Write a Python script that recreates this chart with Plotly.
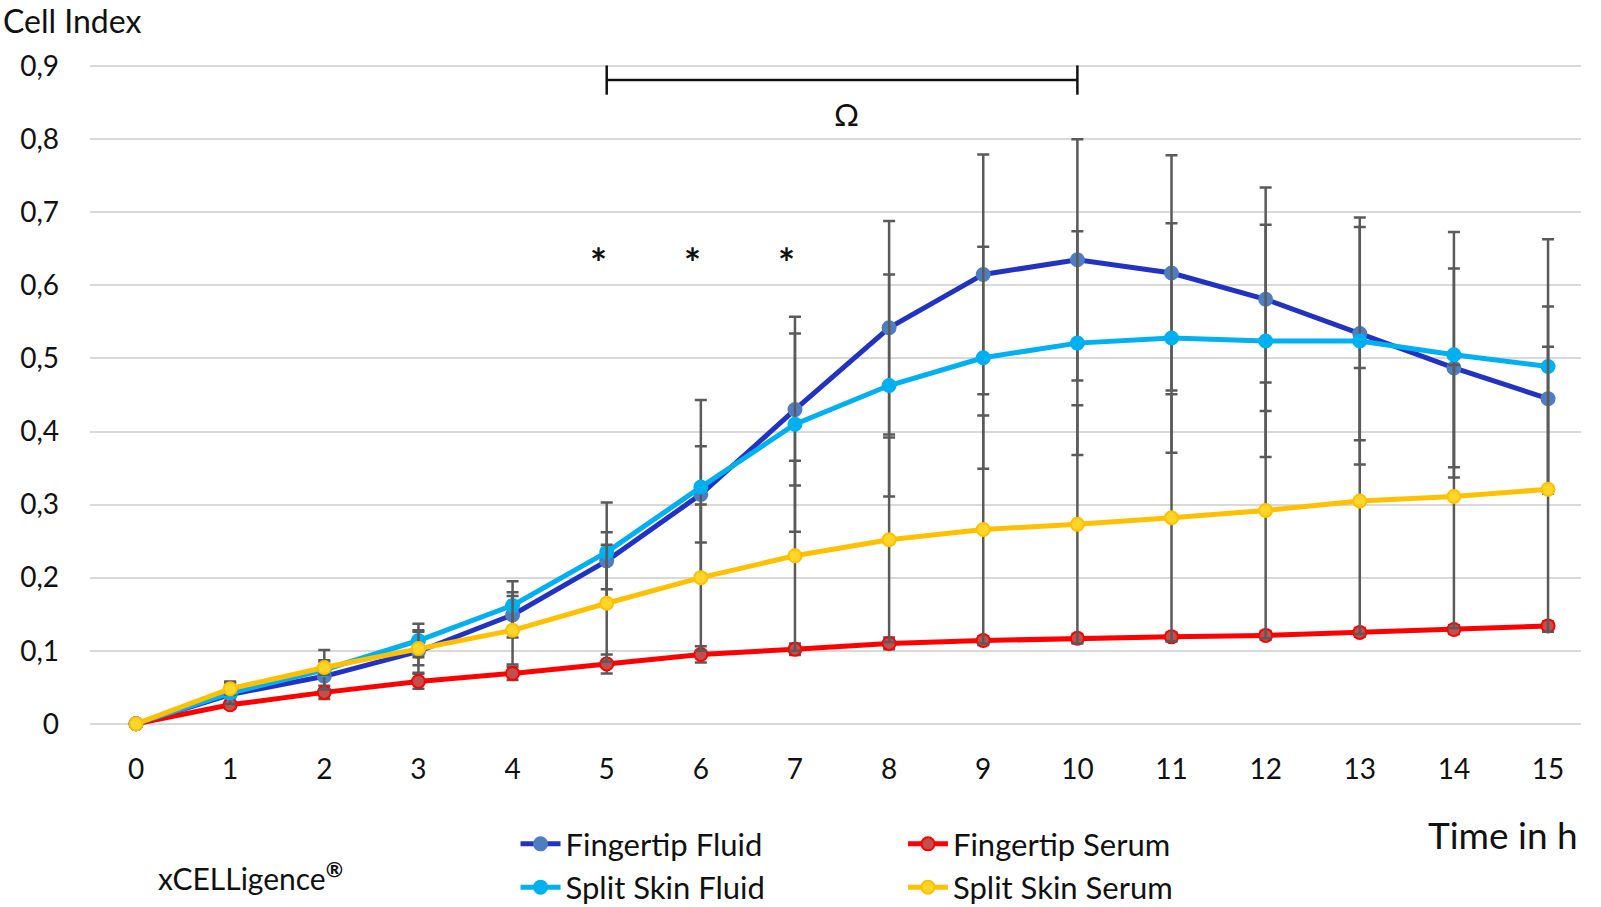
import plotly.graph_objects as go

hours = list(range(16))

ff_mean = [0, 0.040, 0.065, 0.099, 0.149, 0.223, 0.314, 0.430, 0.542, 0.615, 0.635, 0.617, 0.581, 0.534, 0.487, 0.445]
ff_sd   = [0, 0.018, 0.020, 0.029, 0.031, 0.039, 0.066, 0.104, 0.146, 0.164, 0.165, 0.161, 0.153, 0.146, 0.136, 0.126]

fs_mean = [0, 0.026, 0.043, 0.058, 0.069, 0.082, 0.095, 0.102, 0.110, 0.114, 0.117, 0.119, 0.121, 0.125, 0.129, 0.134]
fs_sd   = [0, 0.005, 0.009, 0.010, 0.009, 0.013, 0.011, 0.008, 0.008, 0.006, 0.006, 0.006, 0.006, 0.006, 0.006, 0.006]

ssf_mean = [0, 0.042, 0.074, 0.114, 0.162, 0.235, 0.324, 0.410, 0.463, 0.501, 0.521, 0.528, 0.524, 0.524, 0.505, 0.489]
ssf_sd   = [0, 0.015, 0.027, 0.023, 0.033, 0.068, 0.119, 0.147, 0.152, 0.152, 0.153, 0.157, 0.159, 0.169, 0.168, 0.174]

sss_mean = [0, 0.048, 0.077, 0.103, 0.128, 0.165, 0.200, 0.230, 0.252, 0.266, 0.273, 0.282, 0.292, 0.305, 0.311, 0.321]
sss_sd   = [0, 0.008, 0.010, 0.023, 0.047, 0.080, 0.100, 0.130, 0.140, 0.156, 0.163, 0.169, 0.175, 0.182, 0.180, 0.195]

y_tickvals = [0, 0.1, 0.2, 0.3, 0.4, 0.5, 0.6, 0.7, 0.8, 0.9]
y_ticktext = ["0", "0,1", "0,2", "0,3", "0,4", "0,5", "0,6", "0,7", "0,8", "0,9"]

star_x = [4.91, 5.91, 6.91]
star_y = 0.631
bracket_start, bracket_end, bracket_y = 5, 10, 0.881
bracket_tick = 0.02
omega_x, omega_y = 7.55, 0.835

FONT = "Lato, 'Open Sans', sans-serif"
ERR_COLOR = "#5a5a5a"

series = [
    ("Fingertip Fluid", ff_mean, ff_sd, "#2233C4", "#4F7EC0", "#4F7EC0", "legend"),
    ("Fingertip Serum", fs_mean, fs_sd, "#FF0000", "#C0504D", "#FF0000", "legend2"),
    ("Split Skin Fluid", ssf_mean, ssf_sd, "#00B0F0", "#00B0F0", "#00B0F0", "legend"),
    ("Split Skin Serum", sss_mean, sss_sd, "#FFC000", "#FFD52A", "#FFC000", "legend2"),
]

fig = go.Figure()
for name, m, sd, lc, mc, mlc, lg in series:
    fig.add_trace(go.Scatter(
        x=hours, y=m, name=name, mode="lines+markers",
        line=dict(color=lc, width=5),
        marker=dict(size=13, color=mc, line=dict(color=mlc, width=2)),
        error_y=dict(type="data", array=sd, visible=True, color=ERR_COLOR, thickness=2.5, width=6),
        cliponaxis=False, legend=lg,
    ))

# significance stars
for sx in star_x:
    fig.add_annotation(x=sx, y=star_y, text="<b>*</b>", showarrow=False,
                       font=dict(family=FONT, size=40, color="#111"), xanchor="center", yanchor="middle")

# bracket with Omega
fig.add_shape(type="line", x0=bracket_start, x1=bracket_end, y0=bracket_y, y1=bracket_y,
              line=dict(color="#111", width=2.5))
for bx in (bracket_start, bracket_end):
    fig.add_shape(type="line", x0=bx, x1=bx, y0=bracket_y - bracket_tick, y1=bracket_y + bracket_tick,
                  line=dict(color="#111", width=2.5))
fig.add_annotation(x=omega_x, y=omega_y, text="Ω", showarrow=False,
                   font=dict(family=FONT, size=31, color="#111"), xanchor="center", yanchor="middle")

# axis labels / texts
fig.add_annotation(x=-0.059, y=1.0965, xref="paper", yref="paper", text="Cell Index", showarrow=False,
                   font=dict(family=FONT, size=32, color="#111"), xanchor="left", yanchor="top",
                   borderpad=0)
fig.add_annotation(x=0.9993, y=-0.164, xref="paper", yref="paper", text="Time in h", showarrow=False,
                   font=dict(family=FONT, size=37, color="#111"), xanchor="right", yanchor="middle")
fig.add_annotation(x=0.0443, y=-0.226, xref="paper", yref="paper", text="xCELLigence<b><sup>®</sup></b>",
                   showarrow=False, font=dict(family=FONT, size=30, color="#111"), xanchor="left", yanchor="middle")

legend_common = dict(orientation="v", bgcolor="rgba(0,0,0,0)", font=dict(family=FONT, size=31, color="#111"),
                     xanchor="left", yanchor="top", tracegroupgap=0, itemwidth=40,
                     xref="container", yref="container")

fig.update_layout(
    width=1601, height=907,
    margin=dict(l=90, r=20, t=64, b=181, autoexpand=False),
    paper_bgcolor="white", plot_bgcolor="white",
    font=dict(family=FONT, color="#111"),
    showlegend=True,
    legend=dict(x=0.322, y=0.099, **legend_common),
    legend2=dict(x=0.564, y=0.099, **legend_common),
    xaxis=dict(range=[-0.489, 15.35], tickvals=hours, ticktext=[str(h) for h in hours],
               showgrid=False, zeroline=False, showline=False, ticks="", automargin=False,
               tickfont=dict(family=FONT, size=28, color="#111"), ticklabelstandoff=24),
    yaxis=dict(range=[-0.003, 0.903], tickvals=y_tickvals, ticktext=y_ticktext, automargin=False,
               showgrid=True, gridcolor="#D9D9D9", gridwidth=1.5, zeroline=False, showline=False, ticks="",
               tickfont=dict(family=FONT, size=28, color="#111"), ticklabelstandoff=30),
)

fig.write_html("out.html", config={"displayModeBar": False},
               post_script="document.body.style.margin='0';document.body.style.overflow='hidden';")
